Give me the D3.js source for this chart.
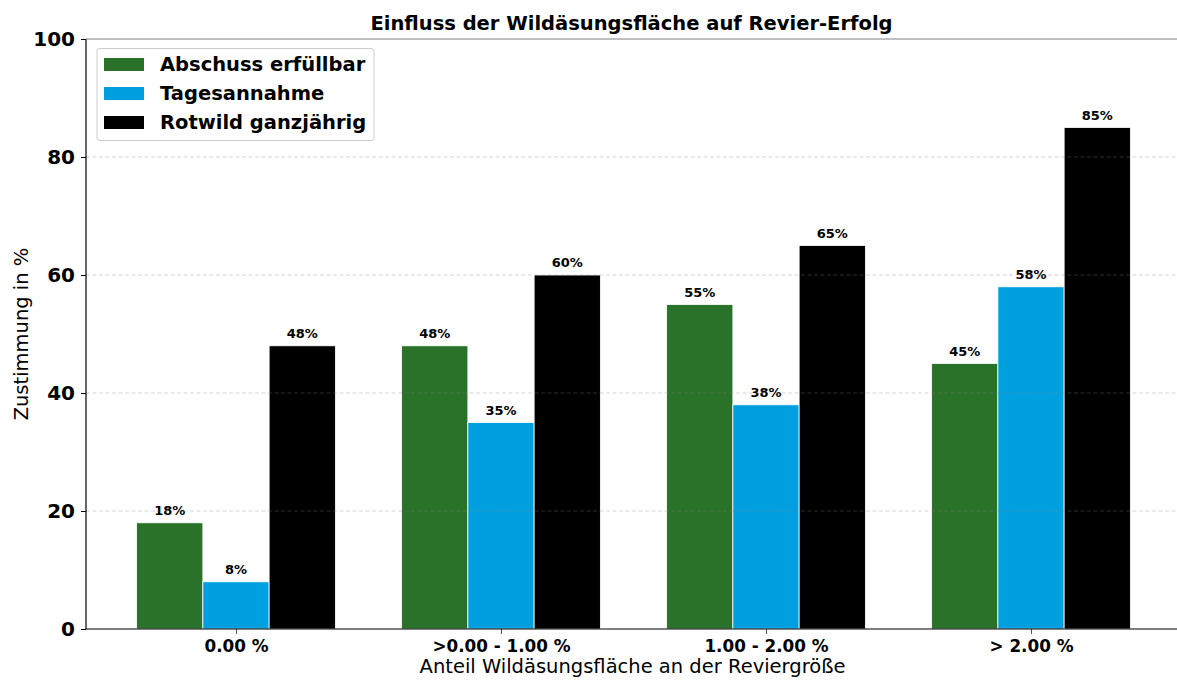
<!DOCTYPE html>
<html><head><meta charset="utf-8">
<script src="https://cdn.jsdelivr.net/npm/d3@7"></script>
<style>body{margin:0;background:#fff}svg{display:block;font-family:"DejaVu Sans",sans-serif}</style>
</head><body><svg id="c" width="1177" height="682"></svg>
<script>
const categories = ["0.00 %", ">0.00 - 1.00 %", "1.00 - 2.00 %", "> 2.00 %"];
const seriesNames = ["Abschuss erfüllbar", "Tagesannahme", "Rotwild ganzjährig"];
const abschuss = [18, 48, 55, 45];
const tagesannahme = [8, 35, 38, 58];
const rotwild = [48, 60, 65, 85];
const yTicks = [0, 20, 40, 60, 80, 100];
const colors = ["#2a722a", "#009fe0", "#000000"];
const title = "Einfluss der Wildäsungsfläche auf Revier-Erfolg";
const xLabel = "Anteil Wildäsungsfläche an der Reviergröße";
const yLabel = "Zustimmung in %";

const series = [abschuss, tagesannahme, rotwild];
const svg = d3.select("#c");
const L = 86, R = 1181, T = 39, B = 629;
const x = d3.scaleLinear().domain([-0.566, 3.566]).range([L, R]);
const y = d3.scaleLinear().domain([0, 100]).range([B, T]);
const bw = x(0.25) - x(0);

// bars
series.forEach((vals, si) => {
  svg.append("g").selectAll("rect").data(vals).join("rect")
    .attr("x", (d, i) => x(i + (si - 1) * 0.25) - bw / 2)
    .attr("y", d => y(d)).attr("width", bw).attr("height", d => y(0) - y(d))
    .attr("fill", colors[si]).attr("stroke", "#fff").attr("stroke-width", 0.8);
  svg.append("g").selectAll("text").data(vals).join("text")
    .attr("x", (d, i) => x(i + (si - 1) * 0.25))
    .attr("y", d => y(d) - 8).attr("text-anchor", "middle")
    .attr("font-size", 13).attr("font-weight", "bold").attr("fill", "#000")
    .text(d => d + "%");
});

// grid
svg.append("g").selectAll("line").data(yTicks.filter(t => t > 0 && t < 100)).join("line")
  .attr("x1", L).attr("x2", R).attr("y1", d => y(d)).attr("y2", d => y(d))
  .attr("stroke", "#808080").attr("stroke-opacity", 0.38).attr("stroke-dasharray", "4,2.5").attr("stroke-width", 0.9);

// axes
const ya = svg.append("g").attr("transform", `translate(${L},0)`)
  .call(d3.axisLeft(y).tickValues(yTicks).tickSize(5).tickPadding(6));
ya.select(".domain").remove();
ya.selectAll("text").attr("font-size", 20).attr("font-weight", "bold").attr("font-family", "DejaVu Sans").attr("fill", "#000");
ya.selectAll("line").attr("stroke", "#000");
const xa = svg.append("g").attr("transform", `translate(0,${B})`)
  .call(d3.axisBottom(x).tickValues([0, 1, 2, 3]).tickFormat(i => categories[i]).tickSize(5).tickPadding(6));
xa.select(".domain").remove();
xa.selectAll("text").attr("font-size", 16.8).attr("font-weight", "bold").attr("font-family", "DejaVu Sans").attr("fill", "#000");
xa.selectAll("line").attr("stroke", "#555");

svg.append("line").attr("x1", L).attr("x2", L).attr("y1", T).attr("y2", B).attr("stroke", "#000").attr("stroke-width", 1.2);
svg.append("line").attr("x1", L).attr("x2", R).attr("y1", B).attr("y2", B).attr("stroke", "#000").attr("stroke-width", 1.2);
svg.append("line").attr("x1", L).attr("x2", R).attr("y1", T).attr("y2", T).attr("stroke", "#808080").attr("stroke-width", 1.2);

// titles
svg.append("text").attr("x", (L + R) / 2 - 2).attr("y", 30).attr("text-anchor", "middle")
  .attr("font-size", 19.5).attr("font-weight", "bold").text(title);
svg.append("text").attr("x", (L + R) / 2 - 1).attr("y", 673).attr("text-anchor", "middle")
  .attr("font-size", 19.5).text(xLabel);
svg.append("text").attr("transform", `translate(28,${(T + B) / 2}) rotate(-90)`).attr("text-anchor", "middle")
  .attr("font-size", 19.5).text(yLabel);

// legend
const lg = svg.append("g");
lg.append("rect").attr("x", 97).attr("y", 48.5).attr("width", 277).attr("height", 92).attr("rx", 3)
  .attr("fill", "#fff").attr("fill-opacity", 0.8).attr("stroke", "#ccc").attr("stroke-width", 1);
seriesNames.forEach((n, i) => {
  const cy = 64 + i * 29;
  lg.append("rect").attr("x", 104).attr("y", cy - 6).attr("width", 40).attr("height", 13).attr("fill", colors[i]);
  lg.append("text").attr("x", 160).attr("y", cy + 7).attr("font-size", 19.5).attr("font-weight", "bold").text(n);
});
</script></body></html>
